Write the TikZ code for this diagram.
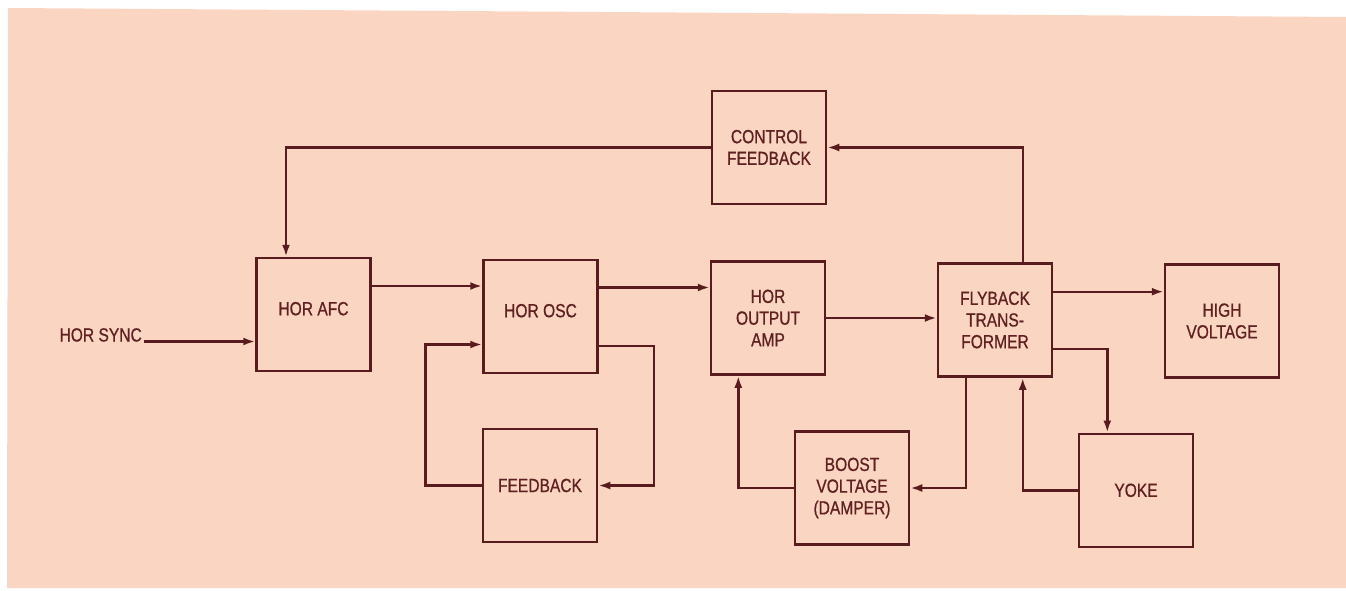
\documentclass[tikz,border=0pt]{standalone}
\usepackage{fontspec}
\setmainfont{Liberation Sans}[FakeStretch=0.82,FakeBold=0.8]
\usetikzlibrary{arrows.meta}
\definecolor{paper}{RGB}{250,214,194}
\definecolor{ink}{RGB}{88,28,30}
\definecolor{txt}{RGB}{96,32,34}
\tikzset{
  blk/.style={draw=ink, line width=2.5pt, minimum width=114pt, minimum height=113pt,
              inner sep=0pt, align=center, text=txt,
              font=\fontsize{19}{21.7}\selectfont},
  raised/.style={text height=13.5pt, text depth=12pt},
  arr/.style={draw=ink, line width=2.4pt, -{Latex[length=12pt,width=8pt]}},
  ln/.style={draw=ink, line width=2.4pt}
}
\begin{document}
\begin{tikzpicture}[x=1pt,y=-1pt]
\useasboundingbox (0,0) rectangle (1346,591);
\fill[white] (0,0) rectangle (1346,591);
\fill[paper] (8,8) -- (1346,17) -- (1346,588) -- (7,588) -- cycle;

\node[blk] (cf) at (769,147.5) {CONTROL\\FEEDBACK};
\node[blk,raised] (afc) at (313.5,314.5) {HOR AFC};
\node[blk,raised] (osc) at (540.5,316.5) {HOR OSC};
\node[blk] (fb) at (540,485.5) {FEEDBACK};
\node[blk] (amp) at (768,318) {HOR\\OUTPUT\\AMP};
\node[blk] (boost) at (852,488) {BOOST\\VOLTAGE\\(DAMPER)};
\node[blk] (fly) at (995,320) {FLYBACK\\TRANS-\\FORMER};
\node[blk] (hv) at (1222,321) {HIGH\\VOLTAGE};
\node[blk] (yoke) at (1136,490.3) {YOKE};
\node[text=txt, inner sep=2pt, anchor=base east, font=\fontsize{19}{21.7}\selectfont] (sync) at (144,341.5) {HOR SYNC};

% connectors
\draw[arr] (sync.base east) -- (sync.base east -| afc.west);
\draw[arr] (cf.west) -| ([xshift=-27.5pt]afc.north);
\draw[arr] ([xshift=28pt]fly.north) |- (cf.east);
\draw[arr] ([yshift=28.5pt]afc.east) -- ([yshift=28.5pt]afc.east -| osc.west);
\draw[arr] ([yshift=29pt]osc.east) -- ([yshift=29pt]osc.east -| amp.west);
\draw[arr] ([yshift=-29.5pt]osc.east) -- ++(55.5,0) |- (fb.east);
\draw[arr] (fb.west) -- ++(-56.3,0) |- ([yshift=-28pt]osc.west);
\draw[arr] (amp.east) -- (amp.east -| fly.west);
\draw[arr] (boost.west) -| ([xshift=-29.7pt]amp.south);
\draw[arr] ([xshift=-29pt]fly.south) |- (boost.east);
\draw[arr] ([yshift=28.3pt]fly.east) -- ([yshift=28.3pt]fly.east -| hv.west);
\draw[arr] ([yshift=-29pt]fly.east) -| ([xshift=-28.7pt]yoke.north);
\draw[arr] (yoke.west) -| ([xshift=27.7pt]fly.south);
\end{tikzpicture}
\end{document}
